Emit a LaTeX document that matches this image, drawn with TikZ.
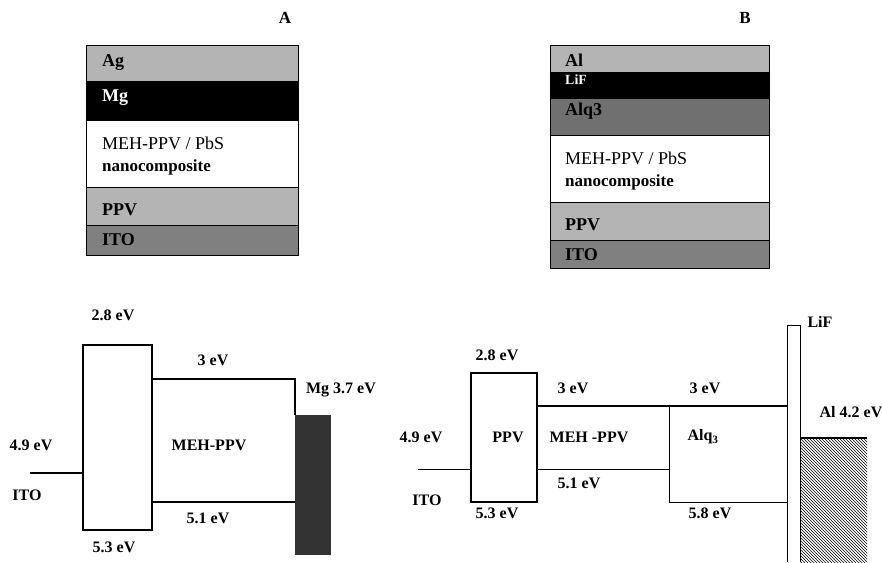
\documentclass[tikz,border=0pt]{standalone}
\usepackage{fontspec}
\setmainfont{Liberation Serif}
\usetikzlibrary{patterns}
\definecolor{lg}{RGB}{180,180,180}
\definecolor{itog}{RGB}{128,128,128}
\definecolor{alqg}{RGB}{112,112,112}
\definecolor{mgb}{RGB}{51,51,51}
\begin{document}
\begin{tikzpicture}[x=1pt,y=-1pt,
 lay/.style={draw=black, line width=0.8pt, anchor=north west, inner sep=0pt, outer sep=0pt},
 ltxt/.style={anchor=west, inner sep=0pt, font=\fontsize{18}{20}\selectfont\bfseries},
 mtxt/.style={anchor=west, inner sep=0pt, font=\fontsize{18}{20}\selectfont},
 ntxt/.style={anchor=west, inner sep=0pt, font=\fontsize{17}{19}\selectfont\bfseries},
 ev/.style={inner sep=0pt, font=\fontsize{16}{18}\selectfont\bfseries},
 bandthick/.style={line width=1.4pt},
 bandmid/.style={line width=1.1pt},
 bandthin/.style={line width=0.7pt}]
\useasboundingbox (0,0) rectangle (882,562);

% ---------- Panel A stack ----------
\node[ev, font=\fontsize{17}{19}\selectfont\bfseries] (labA) at (285,18) {A};
\node[lay, fill=lg,   minimum width=212pt, minimum height=36pt] (agA)  at (86,45) {};
\node[lay, fill=black,minimum width=212pt, minimum height=39pt] (mgA)  at (86,81) {};
\node[lay, fill=white,minimum width=212pt, minimum height=67pt] (mehA) at (86,120) {};
\node[lay, fill=lg,   minimum width=212pt, minimum height=38pt] (ppvA) at (86,187) {};
\node[lay, fill=itog, minimum width=212pt, minimum height=30pt] (itoA) at (86,225) {};
\node[ltxt] (tagA) at (102,63) {Ag};
\node[ltxt, text=white] (tmgA) at (102,98) {Mg};
\node[mtxt] (tmehA) at (102,143) {MEH-PPV / PbS};
\node[ntxt] (tncA) at (102,167) {nanocomposite};
\node[ltxt] (tppvA) at (102,210) {PPV};
\node[ltxt] (titoA) at (102,240) {ITO};

% ---------- Panel B stack ----------
\node[ev, font=\fontsize{17}{19}\selectfont\bfseries] (labB) at (745,18) {B};
\node[lay, fill=lg,   minimum width=219pt, minimum height=27pt] (alB)  at (550,45) {};
\node[lay, fill=black,minimum width=219pt, minimum height=26pt] (lifB) at (550,72) {};
\node[lay, fill=alqg, minimum width=219pt, minimum height=37pt] (alqB) at (550,98) {};
\node[lay, fill=white,minimum width=219pt, minimum height=67pt] (mehB) at (550,135) {};
\node[lay, fill=lg,   minimum width=219pt, minimum height=38pt] (ppvB) at (550,202) {};
\node[lay, fill=itog, minimum width=219pt, minimum height=28pt] (itoB) at (550,240) {};
\node[ltxt] (talB) at (565,60) {Al};
\node[ltxt, text=white, font=\fontsize{14}{16}\selectfont\bfseries] (tlifB) at (565,80) {LiF};
\node[ltxt] (talqB) at (565,111) {Alq3};
\node[mtxt] (tmehB) at (565,158) {MEH-PPV / PbS};
\node[ntxt] (tncB) at (565,182) {nanocomposite};
\node[ltxt] (tppvB) at (565,225) {PPV};
\node[ltxt] (titoB) at (565,255) {ITO};

% ---------- Band diagram A ----------
\node[draw, bandthick, anchor=north west, inner sep=0pt, outer sep=0pt,
      minimum width=69pt, minimum height=185pt] (ppvL) at (83,345) {};
\node[fill=mgb, anchor=north west, inner sep=0pt, outer sep=0pt,
      minimum width=36pt, minimum height=140pt] (mgL) at (295,415) {};
\coordinate (lumoL) at (152,379);
\coordinate (lumoR) at (295,379);
\coordinate (homoL) at (152,502);
\coordinate (homoR) at (295,502);
\coordinate (itoLs) at (30,473);
\draw[bandthick] (lumoL) -- (lumoR) -- (mgL.north west);
\draw[bandthick] (homoL) -- (homoR);
\draw[bandthick] (itoLs) -- (itoLs -| ppvL.west);
\node[ev] (e28L) at (113,315) {2.8 eV};
\node[ev] (e3L) at (213,360) {3 eV};
\node[ev] (emgL) at (341,390) {Mg 3.7 eV};
\node[ev] (e49L) at (31,445) {4.9 eV};
\node[ev] (mehL) at (209,445) {MEH-PPV};
\node[ev] (itoL) at (27,495) {ITO};
\node[ev] (e51L) at (208,518) {5.1 eV};
\node[ev] (e53L) at (114,547) {5.3 eV};

% ---------- Band diagram B ----------
\node[draw, bandthick, anchor=north west, inner sep=0pt, outer sep=0pt,
      minimum width=66pt, minimum height=129pt] (ppvR) at (471,373) {};
\coordinate (lifBL) at (787,562);
\coordinate (lifTL) at (787,325);
\coordinate (lifTR) at (800,325);
\coordinate (lifBR) at (800,562);
\draw[line width=0.9pt] (lifBL) -- (lifTL) -- (lifTR) -- (lifBR);
\coordinate (topR) at (537,406);
\coordinate (alqTL) at (669,406);
\coordinate (alqBL) at (669,502);
\coordinate (alqBR) at (787,502);
\coordinate (mehBL) at (537,469);
\coordinate (itoRs) at (418,469);
\draw[bandmid] (topR) -- (topR -| lifTL);
\draw[bandthin] (mehBL) -- (mehBL -| alqTL);
\draw[bandthin] (alqTL) -- (alqBL) -- (alqBR);
\draw[bandthin] (itoRs) -- (itoRs -| ppvR.west);
\fill[pattern=north west lines] (800,438) rectangle (867,562);
\draw[bandthick] (800,438) -- (867,438);
\node[ev] (lifR) at (820,322) {LiF};
\node[ev] (e28R) at (497,355) {2.8 eV};
\node[ev] (e3R1) at (573,388) {3 eV};
\node[ev] (e3R2) at (705,388) {3 eV};
\node[ev] (ealR) at (851,412) {Al 4.2 eV};
\node[ev] (e49R) at (421,437) {4.9 eV};
\node[ev] (ppvRt) at (508,437) {PPV};
\node[ev] (mehR) at (589,437) {MEH -PPV};
\node[ev] (alqR) at (703,437) {Alq\textsubscript{3}};
\node[ev] (itoR) at (427,500) {ITO};
\node[ev] (e51R) at (579,483) {5.1 eV};
\node[ev] (e53R) at (497,513) {5.3 eV};
\node[ev] (e58R) at (710,513) {5.8 eV};
\end{tikzpicture}
\end{document}
